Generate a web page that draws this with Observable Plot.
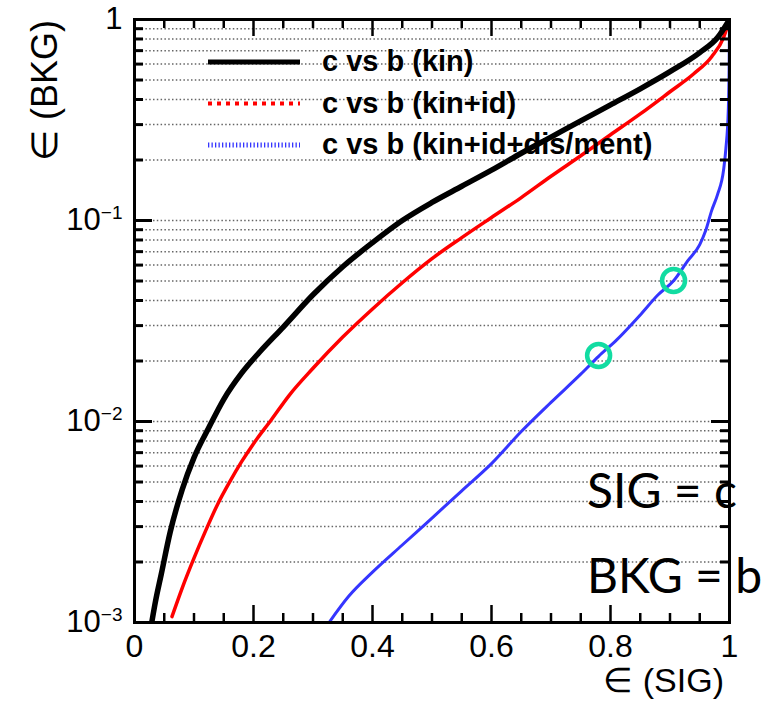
<!DOCTYPE html>
<html><head><meta charset="utf-8">
<script src="https://cdn.jsdelivr.net/npm/d3@7"></script>
<script src="https://cdn.jsdelivr.net/npm/@observablehq/plot@0.6"></script>
<style>
body{margin:0;background:#fff;}
#wrap{width:776px;height:704px;}
</style></head><body><div id="wrap"></div>
<script>
// ---- data ----
const kinX = [0.029,0.035,0.045,0.06,0.08,0.10,0.125,0.15,0.18,0.21,0.25,0.30,0.35,0.40,0.45,0.50,0.55,0.60,0.65,0.70,0.75,0.80,0.85,0.90,0.95,0.98,1.0];
const kinY = [0.001,0.00126,0.00174,0.00282,0.00457,0.00661,0.00933,0.0129,0.0174,0.0221,0.0295,0.0427,0.0589,0.0776,0.100,0.123,0.148,0.178,0.216,0.260,0.313,0.376,0.452,0.550,0.684,0.813,1.0];

const idX = [0.063,0.08,0.10,0.12,0.14,0.16,0.18,0.20,0.23,0.26,0.30,0.35,0.40,0.45,0.50,0.55,0.60,0.65,0.70,0.75,0.80,0.85,0.90,0.94,0.97,0.99,1.0];
const idY = [0.00107,0.00148,0.00209,0.00288,0.00389,0.00501,0.00631,0.00776,0.0102,0.0135,0.0184,0.0263,0.0363,0.0490,0.0646,0.0822,0.1035,0.130,0.166,0.210,0.267,0.339,0.437,0.537,0.653,0.813,1.0];

const disX = [0.327,0.36,0.40,0.45,0.50,0.55,0.60,0.65,0.70,0.75,0.78,0.81,0.85,0.88,0.906,0.93,0.95,0.96,0.97,0.98,0.99,0.994,0.998,0.9995,1.0];
const disY = [0.001,0.00135,0.00178,0.00243,0.00331,0.00452,0.00617,0.00891,0.01245,0.0172,0.0211,0.0254,0.0339,0.0427,0.0501,0.0631,0.0759,0.0891,0.112,0.135,0.178,0.229,0.355,0.631,1.0];

const markX = [0.780,0.906];
const markY = [0.0213,0.0503];

const legendLabels = ["c vs b (kin)","c vs b (kin+id)","c vs b (kin+id+dis/ment)"];
const noteLabels = ["SIG = c","BKG = b"];
const xTitle = "\u2208 (SIG)";
const yTitle = "\u2208 (BKG)";

const xMajorTicks = [0,0.2,0.4,0.6,0.8,1];
const xTickLabels = ["0","0.2","0.4","0.6","0.8","1"];
const xMinorTicks = [0.05,0.1,0.15,0.25,0.3,0.35,0.45,0.5,0.55,0.65,0.7,0.75,0.85,0.9,0.95];
const yMajorTicks = [0.001,0.01,0.1,1];
const yTickLabels = ["10|\u22123","10|\u22122","10|\u22121","1"];
const yMinorTicks = [0.002,0.003,0.004,0.005,0.006,0.007,0.008,0.009,
                     0.02,0.03,0.04,0.05,0.06,0.07,0.08,0.09,
                     0.2,0.3,0.4,0.5,0.6,0.7,0.8,0.9];

// ---- build ----
const toRows = (xs, ys) => xs.map((x, i) => ({x, y: ys[i]}));
const FONT = "'Liberation Sans', Arial, Helvetica, sans-serif";
const W = 776, H = 704, ML = 134, MR = 47, MT = 19, MB = 82;
const PW = W - ML - MR, PH = H - MT - MB;
const X0 = 0, X1 = 1, Y0 = 0.001, Y1 = 1;
const DEC = Math.log10(Y1 / Y0);

// inward tick marks as rules: length converted from pixels into scale units
const yTicks = (vals, len) => {
  const dx = (X1 - X0) * len / PW;
  return [
    Plot.ruleY(vals, {y: d => d, x1: X0, x2: X0 + dx, stroke: "black", strokeWidth: 3}),
    Plot.ruleY(vals, {y: d => d, x1: X1 - dx, x2: X1, stroke: "black", strokeWidth: 3})
  ];
};
const xTicks = (vals, len) => {
  const f = Math.pow(10, DEC * len / PH);
  return [
    Plot.ruleX(vals, {x: d => d, y1: Y0, y2: Y0 * f, stroke: "black", strokeWidth: 2.5}),
    Plot.ruleX(vals, {x: d => d, y1: Y1 / f, y2: Y1, stroke: "black", strokeWidth: 2.5})
  ];
};

const plot = Plot.plot({
  width: W, height: H,
  marginLeft: ML, marginRight: MR, marginTop: MT, marginBottom: MB,
  style: {fontFamily: FONT, background: "white"},
  x: {domain: [X0, X1]},
  y: {type: "log", domain: [Y0, Y1]},
  marks: [
    Plot.gridY([...yMinorTicks, ...yMajorTicks], {stroke: "#666", strokeOpacity: 1, strokeWidth: 1.5, strokeDasharray: "1.5,2.3"}),
    Plot.axisY(yMajorTicks, {anchor: "left", tickSize: 0, tickPadding: 12, fontSize: 31, label: null, fill: "black",
      tickFormat: d => yTickLabels[yMajorTicks.indexOf(d)]}),
    Plot.axisX(xMajorTicks, {anchor: "bottom", tickSize: 0, tickPadding: 12, fontSize: 32, label: null, fill: "black",
      tickFormat: d => xTickLabels[xMajorTicks.indexOf(d)]}),
    Plot.line(toRows(disX, disY), {x: "x", y: "y", stroke: "#3535ff", strokeWidth: 3, curve: "monotone-x", clip: true}),
    Plot.line(toRows(idX, idY), {x: "x", y: "y", stroke: "#ff0000", strokeWidth: 3.5, curve: "monotone-x", clip: true}),
    Plot.line(toRows(kinX, kinY), {x: "x", y: "y", stroke: "#000", strokeWidth: 5.5, curve: "monotone-x", clip: true}),
    Plot.dot(toRows(markX, markY), {x: "x", y: "y", r: 11.5, stroke: "#12dca2", strokeWidth: 4.5, fill: "none"}),
    ...yTicks(yMajorTicks, 18), ...yTicks(yMinorTicks, 9),
    ...xTicks(xMajorTicks, 17), ...xTicks(xMinorTicks, 9),
    Plot.frame({stroke: "black", strokeWidth: 3})
  ]
});

document.getElementById("wrap").appendChild(plot);
const svg = d3.select(plot);

// superscript exponents on y tick labels
svg.selectAll('g[aria-label="y-axis tick label"] text').each(function() {
  const t = d3.select(this);
  const s = t.text();
  if (s.includes("|")) {
    const [base, exp] = s.split("|");
    t.text(base);
    t.append("tspan").attr("dy", -11).attr("font-size", 19).text(exp);
  }
});

// axis titles
svg.append("text").attr("x", 724).attr("y", 692).attr("text-anchor", "end")
  .attr("font-size", 34).attr("font-family", FONT).attr("fill", "black").text(xTitle);
svg.append("text").attr("transform", "translate(57,20) rotate(-90)").attr("text-anchor", "end")
  .attr("font-size", 36).attr("font-family", FONT).attr("fill", "black").text(yTitle);

// legend
const legStyles = [
  {stroke: "#000", w: 5, dash: null},
  {stroke: "#ff0000", w: 4, dash: "4,5"},
  {stroke: "#3535ff", w: 5, dash: "1.3,2.2"}
];
const leg = svg.append("g");
legendLabels.forEach((lab, i) => {
  const y = 62 + i * 41.5;
  const st = legStyles[i];
  leg.append("line").attr("x1", 208).attr("x2", 300).attr("y1", y).attr("y2", y)
    .attr("stroke", st.stroke).attr("stroke-width", st.w).attr("stroke-dasharray", st.dash);
  leg.append("text").attr("x", 322).attr("y", y + 9).attr("text-anchor", "start")
    .attr("font-size", 29).attr("font-weight", "bold")
    .attr("font-family", FONT).attr("fill", "black").text(lab);
});

// annotations
noteLabels.forEach((lab, i) => {
  svg.append("text").attr("x", 587).attr("y", 508 + i * 85).attr("text-anchor", "start")
    .attr("font-size", 48)
    .attr("font-family", "Lato, 'Open Sans', sans-serif").attr("fill", "black").text(lab);
});
</script>
</body></html>
